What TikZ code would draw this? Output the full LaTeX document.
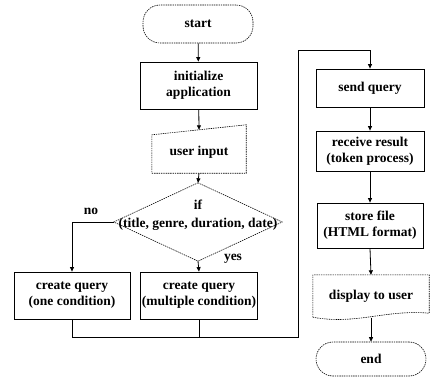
\documentclass[tikz,border=0pt]{standalone}
\usepackage{fontspec}
\setmainfont{Liberation Serif}
\usetikzlibrary{arrows.meta,calc}

\tikzset{
  every node/.style={font=\fontsize{13.5}{16}\selectfont\bfseries, align=center, inner sep=1pt},
  dashline/.style={line width=0.6pt, dash pattern=on 1.4pt off 0.9pt},
  solidline/.style={line width=0.8pt},
  procbox/.style={draw, solidline, rectangle},
  terminal/.style={draw, dashline, rectangle, rounded corners=17pt, minimum width=110pt},
  flow/.style={solidline, -{Triangle[length=4.5pt,width=4pt]}},
}

\begin{document}
\begin{tikzpicture}[x=1pt, y=-1pt]
  \useasboundingbox (0,0) rectangle (431,389);

  % left column
  \node[terminal, minimum height=38pt] (start) at (198,24) {start};
  \node[procbox, minimum width=117pt, minimum height=47pt] (init) at (198.5,85.5) {initialize\\application};

  % manual input shape (slanted top)
  \node[minimum width=94pt, minimum height=42pt] (input) at (199,152) {user input};
  \draw[dashline] (input.south west) -- (input.south east)
    -- ($(input.north east)+(0,-6)$) -- ($(input.north west)+(0,4)$) -- cycle;

  % decision
  \node[minimum width=168pt, minimum height=78pt, inner sep=0pt] (dec) at (198,222) {};
  \draw[dashline] (dec.north) -- (dec.east) -- (dec.south) -- (dec.west) -- cycle;
  \node[font=\fontsize{13.5}{18}\selectfont\bfseries] (dectext) at (198,215) {if\\(title, genre, duration, date)};
  \node (nolab) at (91,211) {no};
  \node (yeslab) at (233,259) {yes};

  \node[procbox, minimum width=116pt, minimum height=47pt] (one) at (72,295.5) {create query\\(one condition)};
  \node[procbox, minimum width=116pt, minimum height=47pt] (multi) at (199,295.5) {create query\\(multiple condition)};

  % right column
  \node[procbox, minimum width=108pt, minimum height=38pt] (send) at (370,88) {send query};
  \node[procbox, minimum width=108pt, minimum height=40pt] (recv) at (370,151) {receive result\\(token process)};
  \node[procbox, minimum width=106pt, minimum height=45pt] (store) at (370,225.5) {store file\\(HTML format)};

  % document shape with wavy bottom
  \node[minimum width=116pt, minimum height=42pt] (disp) at (371,296) {display to user};
  \draw[dashline] (disp.south west) -- (disp.north west) -- (disp.north east)
    -- ($(disp.south east)+(0,-4)$)
    .. controls ($(disp.south)+(15,-8)$) and ($(disp.south)+(-15,8)$) .. (disp.south west);

  \node[terminal, minimum height=34pt] (end) at (371,359) {end};

  % connectors
  \draw[flow] (start) -- (init);
  \draw[flow] (init) -- ($(input.north)+(0,-1)$);
  \draw[flow] (input.south) -- (dec.north);
  \draw[flow] (dec.west) -| (one.north);
  \draw[flow] (dec.south) -- (multi.north);

  \coordinate (busR) at (298,337);
  \coordinate (busTop) at (298,50);
  \draw[flow] (one.south) |- (busR) -- (busTop) -| (send.north);
  \draw[solidline] (multi.south) -- (multi.south |- busR);

  \draw[flow] (send) -- (recv);
  \draw[flow] (recv) -- (store);
  \draw[flow] (store.south) -- (disp.north);
  \draw[flow] ($(disp.south)+(0,0.5)$) -- (end.north);
\end{tikzpicture}
\end{document}
